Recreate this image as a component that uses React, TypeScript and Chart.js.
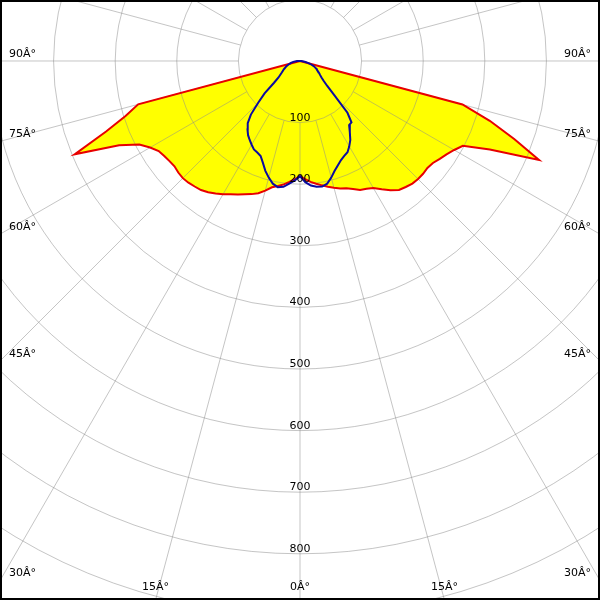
import React, { useEffect, useRef } from "react";
import { Chart, registerables } from "chart.js";

Chart.register(...registerables);

// Gamma angles (degrees from nadir)
const ANGLES = [
  0, 2.5, 5, 7.5, 10, 12.5, 15, 17.5, 20, 22.5, 25, 27.5, 30, 32.5, 35, 37.5,
  40, 42.5, 45, 47.5, 50, 52.5, 55, 57.5, 60, 62.5, 65, 67.5, 70, 72.5, 75,
  77.5, 80, 82.5, 85, 87.5, 90,
];

// Red plane (C0 right / C180 left), cd
const C0 = [
  187, 192, 197, 201, 205, 209, 213, 217, 220, 225, 231, 234, 238, 247, 256,
  264, 267, 270, 271, 271, 270, 272, 277, 282, 289, 298, 340, 420, 370, 323,
  273, 0, 0, 0, 0, 0, 0,
];
const C180 = [
  187, 192, 197, 202, 206, 210, 218, 225, 230, 234, 239, 244, 250, 255, 260,
  264, 266, 268, 269, 268, 266, 267, 269, 272, 281, 294, 324, 396, 335, 297,
  272, 0, 0, 0, 0, 0, 0,
];

// Blue plane (C90 right / C270 left), cd
const C90 = [
  187, 197, 203, 206, 207, 204, 196, 187, 180, 174, 170, 167, 160, 152, 141,
  131, 130, 114, 80, 60, 50, 44, 40, 37, 34, 31, 29, 26, 23, 19, 16, 12, 9, 6,
  4, 2, 0,
];
const C270 = [
  187, 194, 200, 206, 208, 204, 196, 187, 176, 167, 164, 162, 157, 152, 147,
  140, 132, 118, 96, 78, 55, 44, 39, 35, 32, 30, 27, 25, 22, 20, 17, 15, 13,
  11, 8, 5, 0,
];

const RINGS = [100, 200, 300, 400, 500, 600, 700, 800, 900, 1000];
const RING_LABELS = [100, 200, 300, 400, 500, 600, 700, 800];
const SPOKES = [
  0, 15, 30, 45, 60, 75, 90, 105, 120, 135, 150, 165, 180, 195, 210, 225, 240,
  255, 270, 285, 300, 315, 330, 345,
];
const ANGLE_LABELS = [0, 15, 30, 45, 60, 75, 90];

const DEG = Math.PI / 180;

function polar(values: number[], side: number) {
  return ANGLES.map((a, i) => ({
    x: side * values[i] * Math.sin(a * DEG),
    y: values[i] * Math.cos(a * DEG),
  }));
}

function closedCurve(right: number[], left: number[]) {
  return [...polar(right, 1).reverse(), ...polar(left, -1).slice(1)];
}

const FONT = '11px "DejaVu Sans"';

const polarGrid = {
  id: "polarGrid",
  afterDatasetDraw(chart: any, args: any) {
    if (args.index !== 2) return;
    const { ctx, scales, chartArea } = chart;
    const xs = scales.x;
    const ys = scales.y;
    const cx = xs.getPixelForValue(0);
    const cy = ys.getPixelForValue(0);
    const unit = xs.getPixelForValue(100) - cx;
    ctx.save();
    ctx.beginPath();
    ctx.rect(chartArea.left, chartArea.top, chartArea.right - chartArea.left, chartArea.bottom - chartArea.top);
    ctx.clip();
    ctx.strokeStyle = "rgba(140,140,140,0.5)";
    ctx.lineWidth = 1;
    RINGS.forEach((v) => {
      const r = xs.getPixelForValue(v) - cx;
      ctx.beginPath();
      ctx.arc(cx, cy, r, 0, Math.PI * 2);
      ctx.stroke();
    });
    SPOKES.forEach((a) => {
      const dx = Math.sin(a * DEG);
      const dy = Math.cos(a * DEG);
      const r0 = unit;
      const r1 = unit * 20;
      ctx.beginPath();
      ctx.moveTo(cx + dx * r0, cy + dy * r0);
      ctx.lineTo(cx + dx * r1, cy + dy * r1);
      ctx.stroke();
    });
    ctx.restore();
  },
  afterDraw(chart: any) {
    const { ctx, scales, chartArea } = chart;
    const xs = scales.x;
    const ys = scales.y;
    const cx = xs.getPixelForValue(0);
    const cy = ys.getPixelForValue(0);
    ctx.save();
    ctx.font = FONT;
    ctx.fillStyle = "#000";
    ctx.textAlign = "center";
    ctx.textBaseline = "alphabetic";
    RING_LABELS.forEach((v) => {
      const y = ys.getPixelForValue(v);
      ctx.fillText(String(v), cx, y - 2);
    });
    ctx.textBaseline = "middle";
    ANGLE_LABELS.forEach((a) => {
      const sides = a === 0 ? [1] : [-1, 1];
      sides.forEach((side) => {
        const sx = Math.sin(a * DEG);
        const cyy = Math.cos(a * DEG);
        const tSide = sx > 1e-9 ? (side < 0 ? cx - chartArea.left : chartArea.right - cx) / sx : Infinity;
        const tBottom = cyy > 1e-9 ? (chartArea.bottom - cy) / cyy : Infinity;
        const text = `${a}Â°`;
        if (tSide < tBottom) {
          const y = cy + tSide * cyy;
          if (side < 0) {
            ctx.textAlign = "left";
            ctx.fillText(text, chartArea.left + 9, y - 7);
          } else {
            ctx.textAlign = "right";
            ctx.fillText(text, chartArea.right - 9, y - 7);
          }
        } else {
          const x = cx + side * tBottom * sx;
          ctx.textAlign = "center";
          ctx.fillText(text, x, chartArea.bottom - 13);
        }
      });
    });
    ctx.strokeStyle = "#000";
    ctx.lineWidth = 2;
    ctx.strokeRect(chartArea.left + 1, chartArea.top + 1, chartArea.right - chartArea.left - 2, chartArea.bottom - chartArea.top - 2);
    ctx.restore();
  },
};

export default function App() {
  const ref = useRef<HTMLCanvasElement | null>(null);
  useEffect(() => {
    if (!ref.current) return;
    const red = closedCurve(C0, C180);
    const blue = closedCurve(C90, C270);
    const chart = new Chart(ref.current, {
      type: "scatter",
      data: {
        datasets: [
          {
            label: "C90 - C270",
            data: blue,
            showLine: true,
            borderColor: "#0a0aa0",
            borderWidth: 2,
            pointRadius: 0,
            fill: false,
          },
          {
            label: "C0 - C180",
            data: red,
            showLine: true,
            borderColor: "#e80000",
            borderWidth: 2,
            pointRadius: 0,
            fill: false,
          },
          {
            label: "fill",
            data: red,
            showLine: true,
            borderColor: "rgba(0,0,0,0)",
            borderWidth: 0,
            backgroundColor: "#ffff00",
            pointRadius: 0,
            fill: "shape",
          },
        ],
      },
      options: {
        animation: false,
        responsive: false,
        maintainAspectRatio: false,
        layout: { padding: 0 },
        plugins: { legend: { display: false }, tooltip: { enabled: false } },
        scales: {
          x: { type: "linear", min: -487, max: 487, display: false },
          y: { type: "linear", min: -99, max: 875, reverse: true, display: false },
        },
      },
      plugins: [polarGrid],
    });
    return () => chart.destroy();
  }, []);
  return (
    <div style={{ position: "fixed", left: 0, top: 0, width: 600, height: 600, background: "#fff" }}>
      <canvas ref={ref} width={600} height={600} />
    </div>
  );
}
